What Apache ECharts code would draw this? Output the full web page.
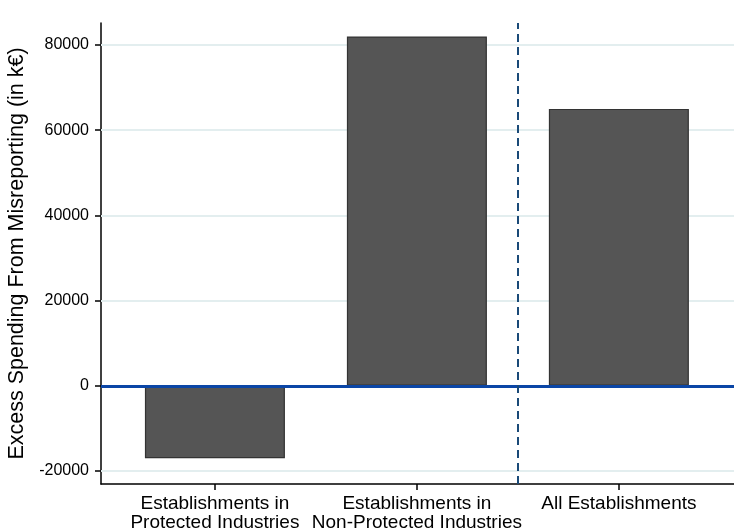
<!DOCTYPE html>
<html><head><meta charset="utf-8">
<script src="https://cdn.jsdelivr.net/npm/echarts@6/dist/echarts.min.js"></script>
<style>html,body{margin:0;padding:0;background:#fff}#c{width:734px;height:531px}</style>
</head><body><div id="c"></div>
<script>
const categories = ["Establishments in\nProtected Industries", "Establishments in\nNon-Protected Industries", "All Establishments"];
const values = [-17000, 82000, 65000];
const yTicks = [-20000, 0, 20000, 40000, 60000, 80000];
const yTitle = "Excess Spending From Misreporting (in k€)";

const positions = categories.map((c, i) => i + 1);
const chart = echarts.init(document.getElementById('c'), null, {renderer: 'canvas'});
const font = "'Liberation Sans', Arial, sans-serif";
chart.setOption({
  animation: false,
  grid: {left: 101, right: 0, top: 23, bottom: 47, containLabel: false, outerBoundsMode: 'none'},
  xAxis: {
    type: 'value', min: 0.436, max: 3.57,
    axisLine: {show: true, onZero: false, lineStyle: {color: '#000', width: 1.5}},
    axisTick: {show: true, length: 6, customValues: positions, lineStyle: {color: '#000', width: 1.5}},
    axisLabel: {customValues: positions, formatter: v => categories[Math.round(v) - 1] || '',
      fontFamily: font, fontSize: 19, color: '#000', lineHeight: 19, margin: 10},
    splitLine: {show: false}
  },
  yAxis: {
    type: 'value', min: -23047, max: 85157,
    name: yTitle, nameLocation: 'middle', nameGap: 72,
    nameTextStyle: {fontFamily: font, fontSize: 21.5, color: '#000'},
    axisLine: {show: true, lineStyle: {color: '#000', width: 1.5}},
    axisTick: {show: true, length: 6, customValues: yTicks, lineStyle: {color: '#000', width: 1.5}},
    axisLabel: {customValues: yTicks, formatter: v => String(v), fontFamily: font, fontSize: 16, color: '#000', margin: 12},
    splitLine: {show: false}
  },
  series: [{
    type: 'line', data: [], z: 1,
    markLine: {
      z: 1, silent: true, symbol: 'none', label: {show: false},
      data: yTicks.filter(t => t !== 0).map(t => ({yAxis: t, lineStyle: {color: '#e3eeef', width: 2, type: 'solid'}}))
    }
  }, {
    type: 'bar',
    data: positions.map((p, i) => [p, values[i]]),
    barWidth: 140,
    itemStyle: {color: '#555555', borderColor: '#333333', borderWidth: 1.2},
    z: 3
  }, {
    type: 'line', data: [], z: 5,
    markLine: {
      z: 6, silent: true, symbol: 'none', label: {show: false},
      data: [
        {yAxis: 0, lineStyle: {color: '#0b46a6', width: 3, type: 'solid'}},
        {xAxis: 2.5, lineStyle: {color: '#1a4a78', width: 2, type: [8, 5]}}
      ]
    }
  }]
});
</script></body></html>
